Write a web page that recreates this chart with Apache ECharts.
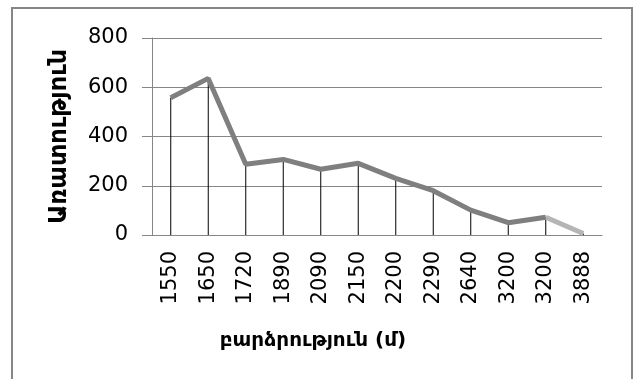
<!DOCTYPE html>
<html>
    <head>
        <meta charset="utf-8">
        <script src="https://cdn.jsdelivr.net/npm/echarts@6/dist/echarts.min.js"></script>
        <style>
            body { margin: 0; background: #fff; }
        </style>
    </head>
    <body>
        <div id="main" style="width: 637px;height:379px;"></div>
        <script type="text/javascript">
            // բարձրություն (մ)
            var heights = ['1550', '1650', '1720', '1890', '2090', '2150', '2200', '2290', '2640', '3200', '3200', '3888'];
            // Առատություն
            var abundance = [557, 636, 287, 307, 267, 291, 230, 180, 101, 50, 72, 6];
            var yTicks = [0, 200, 400, 600, 800];

            var myChart = echarts.init(document.getElementById('main'));
            var grey = '#868686';

            // last segment is drawn in a lighter grey
            var last = abundance.length - 1;
            var mainPart = abundance.map(function (v, i) { return i < last ? v : null; });
            var tailPart = abundance.map(function (v, i) { return i >= last - 1 ? v : null; });

            var option = {
                animation: false,
                textStyle: { fontFamily: 'DejaVu Sans' },
                graphic: [{
                    type: 'rect',
                    shape: { x: 12, y: 8, width: 620, height: 420 },
                    style: { fill: 'none', stroke: grey, lineWidth: 2 }
                }],
                grid: { left: 152, right: 35, top: 38, bottom: 144 },
                xAxis: {
                    type: 'category',
                    data: heights,
                    name: 'բարձրություն (մ)',
                    nameLocation: 'middle',
                    nameGap: 96,
                    nameTextStyle: { fontSize: 20, fontWeight: 'bold', color: '#000', padding: [0, 128, 0, 0] },
                    axisLine: { lineStyle: { color: grey, width: 1 } },
                    axisTick: { show: false },
                    axisLabel: { rotate: 90, fontSize: 21, color: '#000', margin: 16 }
                },
                yAxis: {
                    type: 'value',
                    min: yTicks[0],
                    max: yTicks[yTicks.length - 1],
                    interval: 200,
                    name: 'Առատություն',
                    nameLocation: 'middle',
                    nameGap: 80,
                    nameTextStyle: { fontSize: 24, fontWeight: 'bold', color: '#000' },
                    axisLine: { show: true, lineStyle: { color: grey, width: 1 } },
                    axisTick: { show: true, length: 10, lineStyle: { color: grey } },
                    axisLabel: { fontSize: 21, color: '#000', margin: 24 },
                    splitLine: { lineStyle: { color: grey, width: 1 } }
                },
                series: [{
                    // drop lines
                    type: 'bar',
                    data: abundance,
                    barWidth: 1,
                    itemStyle: { color: '#000' },
                    silent: true
                }, {
                    type: 'line',
                    data: tailPart,
                    symbol: 'none',
                    lineStyle: { width: 5, color: '#b5b5b5' },
                    silent: true
                }, {
                    type: 'line',
                    data: mainPart,
                    symbol: 'none',
                    lineStyle: { width: 5, color: '#7f7f7f' },
                    silent: true
                }]
            };

            myChart.setOption(option);
        </script>
    </body>
</html>
